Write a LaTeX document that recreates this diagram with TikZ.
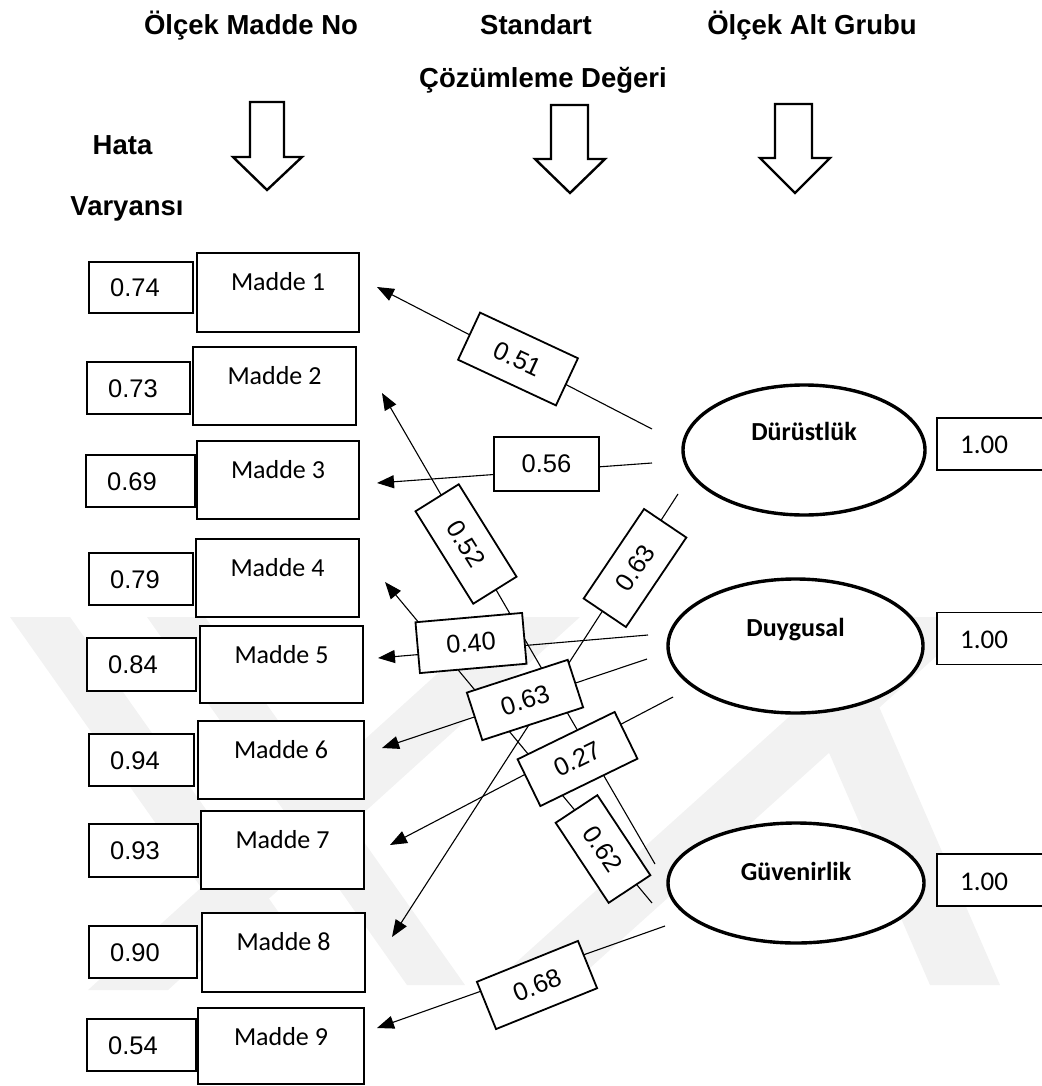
\documentclass[tikz,border=0pt]{standalone}
\usepackage{fontspec}
\setmainfont{Liberation Sans}
\newfontfamily\calibrifont{Carlito}
\usetikzlibrary{arrows.meta,shapes.geometric}
\begin{document}
\begin{tikzpicture}[x=1pt,y=-1pt,
  hdr/.style={font=\fontsize{27.5}{30}\selectfont\bfseries, anchor=base, inner sep=0pt},
  mbox/.style={draw, line width=2.5pt, fill=white, inner sep=0pt},
  vbox/.style={draw, line width=1.8pt, fill=white, inner sep=0pt},
  mtext/.style={font=\calibrifont\fontsize{26}{26}\selectfont, anchor=base, inner sep=0pt},
  vtext/.style={font=\fontsize{25.5}{26}\selectfont, anchor=base west, inner sep=0pt},
  lat/.style={draw, line width=3.4pt, fill=white, ellipse, inner sep=0pt},
  lattext/.style={font=\calibrifont\bfseries\fontsize{26}{26}\selectfont, anchor=base, inner sep=0pt},
  onebox/.style={draw, line width=1.8pt, fill=white, inner sep=0pt, minimum width=113, minimum height=52},
  onetext/.style={font=\calibrifont\fontsize{27}{27}\selectfont, anchor=base west, inner sep=0pt},
  lab/.style={draw, line width=1.8pt, fill=white, inner sep=0pt, font=\fontsize{25.5}{26}\selectfont},
  conn/.style={line width=1.1pt, -{Triangle[length=17pt,width=13pt]}},
  hollow/.style={draw, line width=2.4pt, fill=white, line join=miter},
  wm/.style={fill=black!5}
]
\useasboundingbox (0,0) rectangle (1041,1086);

% watermark
\fill[wm] (10,617) -- (70,617) -- (330,985) -- (270,985) -- cycle;
\fill[wm] (147,617) -- (205,617) -- (465,985) -- (407,985) -- cycle;
\fill[wm] (88,990) -- (168,990) -- (580,617) -- (500,617) -- cycle;
\fill[wm] (491,985) -- (571,985) -- (980,617) -- (900,617) -- cycle;
\fill[wm] (770,617) -- (840,617) -- (1000,985) -- (930,985) -- cycle;

% headers
\node[hdr] (h1) at (251,35) {Ölçek Madde No};
\node[hdr] (h2) at (536,35) {Standart};
\node[hdr] (h3) at (812,35) {Ölçek Alt Grubu};
\node[hdr] (h4) at (543,88) {Çözümleme Değeri};
\node[hdr] (h5) at (122.5,155) {Hata};
\node[hdr] (h6) at (127,215) {Varyansı};

% hollow arrows
\path[hollow] (250,102) -- (284,102) -- (284,157) -- (302,157) -- (267,190) -- (233,157) -- (250,157) -- cycle;
\path[hollow] (551,105) -- (588,105) -- (588,159) -- (605,159) -- (570,193) -- (535,159) -- (551,159) -- cycle;
\path[hollow] (775,104) -- (812,104) -- (812,158) -- (830,158) -- (795,193) -- (760,158) -- (775,158) -- cycle;

% items and error variances
\foreach \i/\mx/\my/\mw/\mh/\vx/\vy/\vw/\vh/\val in {
  1/278/292.5/162/79/89/287.5/104/51/0.74,
  2/274.5/386/163/78/87/388/103/52/0.73,
  3/278/480/162/78/86/481/109/52/0.69,
  4/277.5/578/163/78/89/579/104/52/0.79,
  5/281.5/664.5/163/77/87/664.5/109/53/0.84,
  6/281/760/166/78/89/760/105/52/0.94,
  7/282.5/850/163/78/89/850.5/109/53/0.93,
  8/283.5/952.5/163/79/89/952/108/52/0.90,
  9/281/1046/166/76/87/1045/109/52/0.54}{
  \node[vbox, minimum width=\vw, minimum height=\vh] (v\i) at (\vx+\vw/2,\vy) {};
  \node[vtext] (vt\i) at (\vx+21,\vy+9) {\val};
  \node[mbox, minimum width=\mw, minimum height=\mh] (m\i) at (\mx,\my) {};
  \node[mtext] (mt\i) at (\mx,\my-\mh/2+37) {Madde \i};
}

% latent variables
\node[lat, minimum width=242, minimum height=130] (f1) at (804,450) {};
\node[lattext] (f1t) at (804,440) {Dürüstlük};
\node[lat, minimum width=255, minimum height=134] (f2) at (795.5,646) {};
\node[lattext] (f2t) at (795.5,636) {Duygusal};
\node[lat, minimum width=256, minimum height=120] (f3) at (796,883) {};
\node[lattext] (f3t) at (796,880) {Güvenirlik};

\node[onebox] (o1) at (993.5,444) {};
\node[onetext] (o1t) at (960,453.5) {1.00};
\node[onebox] (o2) at (993.5,638.5) {};
\node[onetext] (o2t) at (960,648) {1.00};
\node[onebox] (o3) at (993.5,880) {};
\node[onetext] (o3t) at (960,890) {1.00};

% connector end points
\coordinate (s1) at (652,429); \coordinate (e1) at (377,287);
\coordinate (s2) at (655,864); \coordinate (e2) at (382,393);
\coordinate (s3) at (652,463); \coordinate (e3) at (377,483);
\coordinate (s4) at (652,903); \coordinate (e4) at (385,582);
\coordinate (s5) at (648,635); \coordinate (e5) at (378,658);
\coordinate (s6) at (647,659); \coordinate (e6) at (382,748);
\coordinate (s7) at (673,697); \coordinate (e7) at (390,845);
\coordinate (s8) at (678,494); \coordinate (e8) at (392,937);
\coordinate (s9) at (665,926); \coordinate (e9) at (377,1028);

\foreach \k in {1,...,9}{\draw[conn] (s\k) -- (e\k);}

% loadings
\node[lab, minimum width=108, minimum height=52, rotate=-25] (l1) at (518,359) {0.51};
\node[lab, minimum width=109, minimum height=51, rotate=-58] (l2) at (466,544) {0.52};
\node[lab, minimum width=105, minimum height=54] (l3) at (546.5,464) {0.56};
\node[lab, minimum width=96, minimum height=50, rotate=-56.5] (l4) at (603,849) {0.62};
\node[lab, minimum width=107, minimum height=51, rotate=5] (l5) at (471,643) {0.40};
\node[lab, minimum width=106, minimum height=50, rotate=18] (l6) at (525,700) {0.63};
\node[lab, minimum width=108, minimum height=52, rotate=26] (l7) at (577.5,759) {0.27};
\node[lab, minimum width=108, minimum height=51, rotate=56] (l8) at (635,568) {0.63};
\node[lab, minimum width=109, minimum height=51, rotate=22] (l9) at (537,985) {0.68};
\end{tikzpicture}
\end{document}
